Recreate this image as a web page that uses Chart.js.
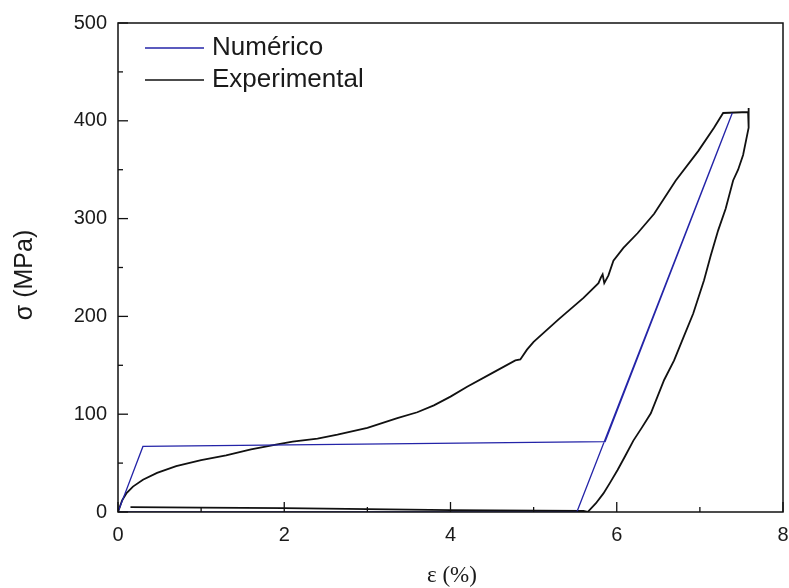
<!DOCTYPE html>
<html lang="pt">
<head>
    <meta charset="UTF-8">
    <title>Tensão x Deformação</title>
    <script src="https://cdn.jsdelivr.net/npm/chart.js"></script>
    <style>
        body { margin: 0; background: #fff; }
    </style>
</head>
<body>
    <canvas id="chart" width="789" height="588"></canvas>

    <script>
        // Numerical model: strain (%) and stress (MPa)
        const numX = [0, 0.3, 5.86, 7.39, 5.52, 0];
        const numY = [0, 67, 72, 408, 0, 0];

        // Experimental curve (loading, unloading, return)
        const expX = [0, 0.05, 0.1, 0.18, 0.3, 0.47, 0.7, 1.0, 1.3, 1.6, 1.9, 2.1, 2.4, 2.64, 3.0, 3.36, 3.6, 3.8, 4.0, 4.2, 4.5, 4.78,
            4.84, 4.92, 5.0, 5.3, 5.6, 5.78, 5.81, 5.83, 5.85, 5.9, 5.96, 6.08, 6.25, 6.45, 6.71, 6.98, 7.17, 7.28, 7.58, 7.59,
            7.59, 7.58, 7.52, 7.46, 7.40, 7.31, 7.22, 7.13, 7.05, 6.92, 6.8, 6.69, 6.57, 6.41, 6.3, 6.2, 6.1, 6.01, 5.92, 5.84, 5.75, 5.65,
            5.6, 4.0, 3.0, 2.0, 1.0, 0.15];
        const expY = [0, 12, 19, 26, 33, 40, 47, 53, 58, 64, 69, 72, 75, 79, 86, 96, 102, 109, 118, 128, 142, 155,
            156, 166, 174, 197, 219, 234, 240, 243, 234, 242, 257, 270, 285, 305, 339, 369, 393, 408, 409, 413,
            400, 393, 365, 350, 339, 310, 288, 262, 237, 203, 178, 155, 135, 101, 86, 73, 57, 43, 30, 19, 9, 0,
            1, 2, 3, 4, 4.5, 5];

        const xTicks = [0, 2, 4, 6, 8];
        const yTicks = [0, 100, 200, 300, 400, 500];
        const seriesNames = ['Numérico', 'Experimental'];
        const seriesColors = ['#2424a8', '#111111'];

        function toPoints(xs, ys) {
            return xs.map((x, i) => ({ x: x, y: ys[i] }));
        }

        // frame, inward ticks, legend and axis titles
        const decorations = {
            id: 'decorations',
            afterDraw(chart) {
                const ctx = chart.ctx;
                const a = chart.chartArea;
                const xs = chart.scales.x;
                const ys = chart.scales.y;
                ctx.save();
                ctx.strokeStyle = '#111';
                ctx.lineWidth = 1.5;
                ctx.strokeRect(a.left, a.top, a.right - a.left, a.bottom - a.top);

                ctx.lineWidth = 1.3;
                for (let v = 0; v <= 8; v += 1) {
                    const px = xs.getPixelForValue(v);
                    const len = v % 2 === 0 ? 10 : 5;
                    ctx.beginPath();
                    ctx.moveTo(px, a.bottom);
                    ctx.lineTo(px, a.bottom - len);
                    ctx.stroke();
                }
                for (let v = 0; v <= 500; v += 50) {
                    const py = ys.getPixelForValue(v);
                    const len = v % 100 === 0 ? 10 : 5;
                    ctx.beginPath();
                    ctx.moveTo(a.left, py);
                    ctx.lineTo(a.left + len, py);
                    ctx.stroke();
                }

                // legend
                ctx.font = '26px "Liberation Sans", Arial, sans-serif';
                ctx.textBaseline = 'middle';
                ctx.textAlign = 'left';
                seriesNames.forEach((name, i) => {
                    const y = 48 + i * 32;
                    ctx.strokeStyle = seriesColors[i];
                    ctx.lineWidth = 1.5;
                    ctx.beginPath();
                    ctx.moveTo(145, y);
                    ctx.lineTo(204, y);
                    ctx.stroke();
                    ctx.fillStyle = '#1a1a1a';
                    ctx.fillText(name, 212, y);
                });

                // axis titles
                ctx.fillStyle = '#1a1a1a';
                ctx.textAlign = 'center';
                ctx.font = '23px "Liberation Serif", "Times New Roman", serif';
                ctx.fillText('ε (%)', 452, 576);

                ctx.translate(25, 275);
                ctx.rotate(-Math.PI / 2);
                ctx.font = '25px "Liberation Sans", Arial, sans-serif';
                ctx.fillText('σ (MPa)', 0, 0);
                ctx.restore();
            }
        };

        new Chart(document.getElementById('chart'), {
            type: 'scatter',
            data: {
                datasets: [
                    {
                        label: seriesNames[0],
                        data: toPoints(numX, numY),
                        showLine: true,
                        borderColor: seriesColors[0],
                        borderWidth: 1.3,
                        pointRadius: 0,
                        tension: 0
                    },
                    {
                        label: seriesNames[1],
                        data: toPoints(expX, expY),
                        showLine: true,
                        borderColor: seriesColors[1],
                        borderWidth: 1.8,
                        pointRadius: 0,
                        tension: 0
                    }
                ]
            },
            options: {
                responsive: false,
                animation: false,
                devicePixelRatio: 1,
                layout: { padding: { left: 0, right: 6, top: 23, bottom: 0 } },
                plugins: {
                    legend: { display: false },
                    tooltip: { enabled: false }
                },
                scales: {
                    x: {
                        type: 'linear',
                        min: 0,
                        max: 8,
                        afterFit: s => {
                            s.height = 76;
                            s.paddingLeft = 0;
                            s.paddingRight = 0;
                        },
                        afterBuildTicks: s => { s.ticks = xTicks.map(v => ({ value: v })); },
                        grid: { display: false, drawTicks: false },
                        border: { display: false },
                        ticks: {
                            padding: 11,
                            color: '#1a1a1a',
                            font: { family: '"Liberation Sans", Arial, sans-serif', size: 20 }
                        }
                    },
                    y: {
                        min: 0,
                        max: 500,
                        afterFit: s => {
                            s.width = 118;
                            s.paddingTop = 0;
                            s.paddingBottom = 0;
                        },
                        afterBuildTicks: s => { s.ticks = yTicks.map(v => ({ value: v })); },
                        grid: { display: false, drawTicks: false },
                        border: { display: false },
                        ticks: {
                            padding: 11,
                            color: '#1a1a1a',
                            font: { family: '"Liberation Sans", Arial, sans-serif', size: 20 }
                        }
                    }
                }
            },
            plugins: [decorations]
        });
    </script>
</body>
</html>
